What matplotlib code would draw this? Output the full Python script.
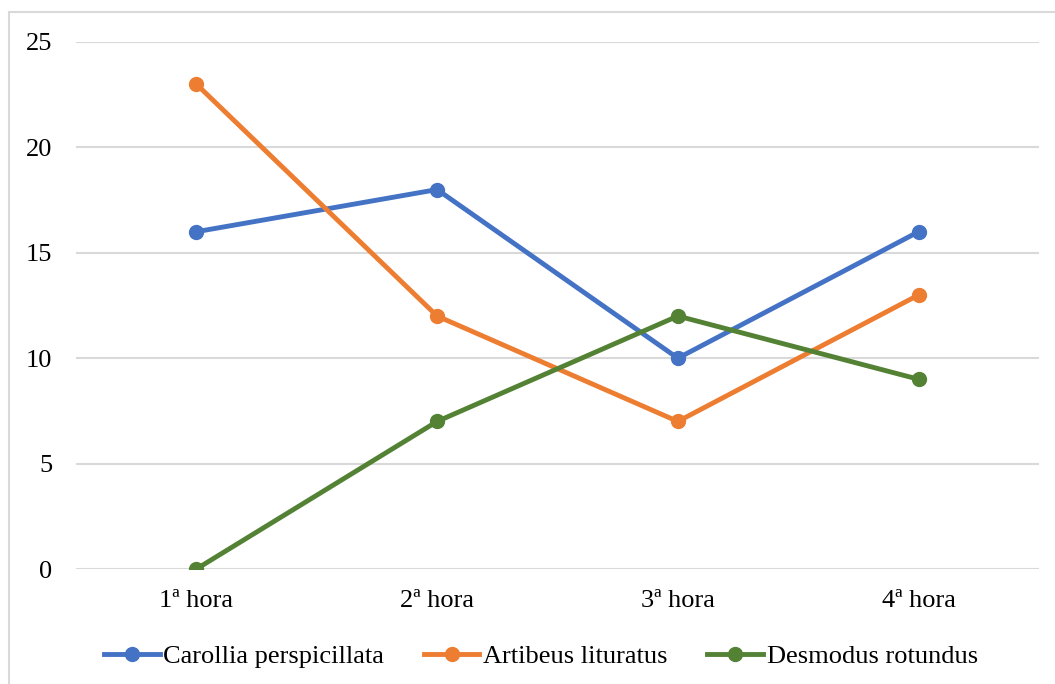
import matplotlib.pyplot as plt
from matplotlib.patches import Rectangle

horas = ['1ª hora', '2ª hora', '3ª hora', '4ª hora']
carollia = [16, 18, 10, 16]
artibeus = [23, 12, 7, 13]
desmodus = [0, 7, 12, 9]

plt.rcParams['font.family'] = ['Liberation Serif', 'DejaVu Serif']

fig = plt.figure(figsize=(10.55, 6.84), dpi=100)
ax = fig.add_axes([76 / 1055, 1 - 569 / 684, (1039 - 76) / 1055, (569 - 42) / 684])

# marco exterior del grafico
fig.patches.append(Rectangle((9 / 1055, -0.1), 1.2, 1.1 - 12 / 684,
                             transform=fig.transFigure, fill=False,
                             edgecolor='#d9d9d9', linewidth=1.5))

x = range(len(horas))
ax.plot(x, carollia, color='#4472C4', lw=3.5, marker='o', ms=10, label='Carollia perspicillata', zorder=3)
ax.plot(x, artibeus, color='#ED7D31', lw=3.5, marker='o', ms=10, label='Artibeus lituratus', zorder=3)
ax.plot(x, desmodus, color='#548235', lw=3.5, marker='o', ms=10, label='Desmodus rotundus', zorder=3)

ax.set_xlim(-0.5, 3.5)
ax.set_ylim(0, 25)
ax.set_yticks([0, 5, 10, 15, 20, 25])
ax.set_xticks(list(x))
ax.set_xticklabels(horas)
ax.grid(axis='y', color='#d9d9d9', lw=1.5)
ax.set_axisbelow(True)
for s in ax.spines.values():
    s.set_visible(False)
ax.tick_params(axis='both', length=0, labelsize=19)
ax.tick_params(axis='y', pad=17)
ax.tick_params(axis='x', pad=15)

fig.legend(loc='center', bbox_to_anchor=(541 / 1055, 1 - 656 / 684), ncol=3,
           frameon=False, fontsize=19, handlelength=2.1, handletextpad=0.15,
           columnspacing=1.5)

fig.savefig('out.png', dpi=100)
